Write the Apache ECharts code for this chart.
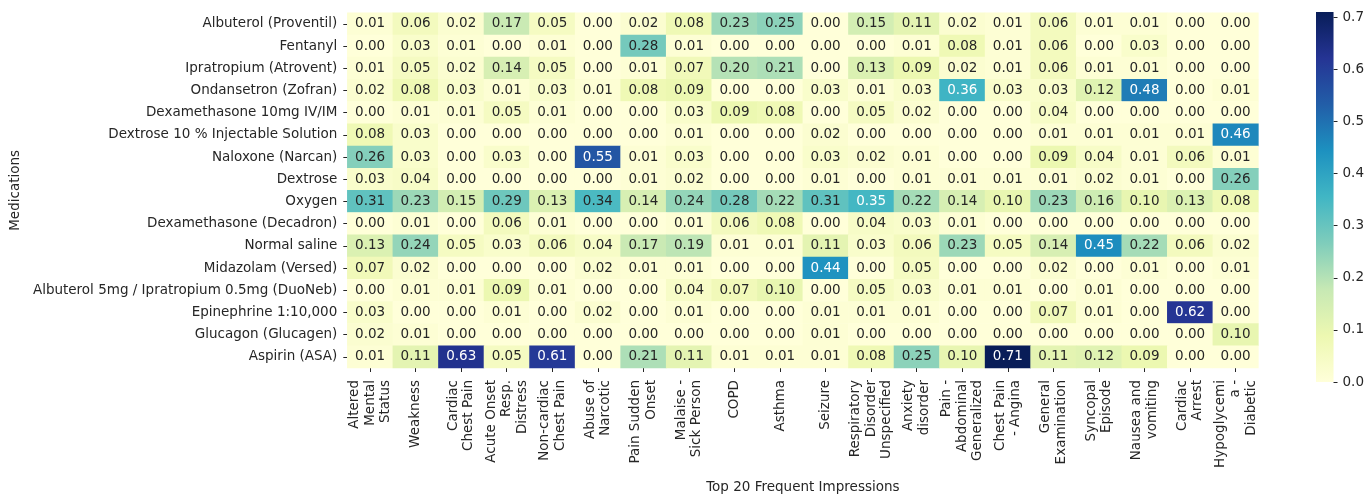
<!DOCTYPE html>
<html>
<head>
<meta charset="utf-8">
<script src="https://cdn.jsdelivr.net/npm/echarts@6/dist/echarts.min.js"></script>
<style>html,body{margin:0;padding:0;background:#fff;}#c{width:1367px;height:499px;}</style>
</head>
<body>
<div id="c"></div>
<script>
const medications = [
  "Albuterol (Proventil)", "Fentanyl", "Ipratropium (Atrovent)", "Ondansetron (Zofran)",
  "Dexamethasone 10mg IV/IM", "Dextrose 10 % Injectable Solution", "Naloxone (Narcan)", "Dextrose",
  "Oxygen", "Dexamethasone (Decadron)", "Normal saline", "Midazolam (Versed)",
  "Albuterol 5mg / Ipratropium 0.5mg (DuoNeb)", "Epinephrine 1:10,000", "Glucagon (Glucagen)", "Aspirin (ASA)"
];
const impressions = [
  "Altered Mental Status", "Weakness", "Cardiac Chest Pain", "Acute Onset Resp. Distress",
  "Non-cardiac Chest Pain", "Abuse of Narcotic", "Pain Sudden Onset", "Malaise - Sick Person",
  "COPD", "Asthma", "Seizure", "Respiratory Disorder Unspecified", "Anxiety disorder",
  "Pain - Abdominal Generalized", "Chest Pain - Angina", "General Examination", "Syncopal Episode",
  "Nausea and vomiting", "Cardiac Arrest", "Hypoglycemia - Diabetic"
];
const impressionTickLabels = [
  "Altered\nMental\nStatus", "Weakness", "Cardiac\nChest Pain", "Acute Onset\nResp.\nDistress",
  "Non-cardiac\nChest Pain", "Abuse of\nNarcotic", "Pain Sudden\nOnset", "Malaise -\nSick Person",
  "COPD", "Asthma", "Seizure", "Respiratory\nDisorder\nUnspecified", "Anxiety\ndisorder",
  "Pain -\nAbdominal\nGeneralized", "Chest Pain\n- Angina", "General\nExamination", "Syncopal\nEpisode",
  "Nausea and\nvomiting", "Cardiac\nArrest", "Hypoglycemi\na -\nDiabetic"
];
// rows = medications, columns = impressions
const values = [
  [0.01,0.06,0.02,0.17,0.05,0.00,0.02,0.08,0.23,0.25,0.00,0.15,0.11,0.02,0.01,0.06,0.01,0.01,0.00,0.00],
  [0.00,0.03,0.01,0.00,0.01,0.00,0.28,0.01,0.00,0.00,0.00,0.00,0.01,0.08,0.01,0.06,0.00,0.03,0.00,0.00],
  [0.01,0.05,0.02,0.14,0.05,0.00,0.01,0.07,0.20,0.21,0.00,0.13,0.09,0.02,0.01,0.06,0.01,0.01,0.00,0.00],
  [0.02,0.08,0.03,0.01,0.03,0.01,0.08,0.09,0.00,0.00,0.03,0.01,0.03,0.36,0.03,0.03,0.12,0.48,0.00,0.01],
  [0.00,0.01,0.01,0.05,0.01,0.00,0.00,0.03,0.09,0.08,0.00,0.05,0.02,0.00,0.00,0.04,0.00,0.00,0.00,0.00],
  [0.08,0.03,0.00,0.00,0.00,0.00,0.00,0.01,0.00,0.00,0.02,0.00,0.00,0.00,0.00,0.01,0.01,0.01,0.01,0.46],
  [0.26,0.03,0.00,0.03,0.00,0.55,0.01,0.03,0.00,0.00,0.03,0.02,0.01,0.00,0.00,0.09,0.04,0.01,0.06,0.01],
  [0.03,0.04,0.00,0.00,0.00,0.00,0.01,0.02,0.00,0.00,0.01,0.00,0.01,0.01,0.01,0.01,0.02,0.01,0.00,0.26],
  [0.31,0.23,0.15,0.29,0.13,0.34,0.14,0.24,0.28,0.22,0.31,0.35,0.22,0.14,0.10,0.23,0.16,0.10,0.13,0.08],
  [0.00,0.01,0.00,0.06,0.01,0.00,0.00,0.01,0.06,0.08,0.00,0.04,0.03,0.01,0.00,0.00,0.00,0.00,0.00,0.00],
  [0.13,0.24,0.05,0.03,0.06,0.04,0.17,0.19,0.01,0.01,0.11,0.03,0.06,0.23,0.05,0.14,0.45,0.22,0.06,0.02],
  [0.07,0.02,0.00,0.00,0.00,0.02,0.01,0.01,0.00,0.00,0.44,0.00,0.05,0.00,0.00,0.02,0.00,0.01,0.00,0.01],
  [0.00,0.01,0.01,0.09,0.01,0.00,0.00,0.04,0.07,0.10,0.00,0.05,0.03,0.01,0.01,0.00,0.01,0.00,0.00,0.00],
  [0.03,0.00,0.00,0.01,0.00,0.02,0.00,0.01,0.00,0.00,0.01,0.01,0.01,0.00,0.00,0.07,0.01,0.00,0.62,0.00],
  [0.02,0.01,0.00,0.00,0.00,0.00,0.00,0.00,0.00,0.00,0.01,0.00,0.00,0.00,0.00,0.00,0.00,0.00,0.00,0.10],
  [0.01,0.11,0.63,0.05,0.61,0.00,0.21,0.11,0.01,0.01,0.01,0.08,0.25,0.10,0.71,0.11,0.12,0.09,0.00,0.00]
];
const colorbarMin = 0;
const colorbarMax = 0.71;
const colorbarTicks = [0.0, 0.1, 0.2, 0.3, 0.4, 0.5, 0.6, 0.7];
const ylgnbu = ['#ffffd9','#edf8b1','#c7e9b4','#7fcdbb','#41b6c4','#1d91c0','#225ea8','#253494','#081d58'];

const cells = [];
values.forEach((row, r) => row.forEach((v, c) => cells.push([c, r, v])));

const FONT = 'DejaVu Sans';
const FS = 13.5;
const TXT = '#262626';
const gradient = new echarts.graphic.LinearGradient(0, 1, 0, 0,
  ylgnbu.map((c, i) => ({offset: i / (ylgnbu.length - 1), color: c})));

const chart = echarts.init(document.getElementById('c'), null, {renderer: 'canvas'});
chart.setOption({
  animation: false,
  backgroundColor: '#ffffff',
  textStyle: {fontFamily: FONT, color: TXT},
  grid: [
    {left: 347, top: 12.7, width: 911.4, height: 370.6},
    {left: 1316, top: 12, width: 18, height: 370}
  ],
  xAxis: [
    {
      type: 'category', data: impressions, gridIndex: 0, position: 'bottom',
      name: 'Top 20 Frequent Impressions', nameLocation: 'middle', nameGap: 112,
      nameTextStyle: {fontFamily: FONT, fontSize: FS, color: TXT},
      axisLine: {show: false},
      axisTick: {show: true, alignWithLabel: true, length: 4, lineStyle: {color: TXT, width: 1}},
      axisLabel: {
        interval: 0, rotate: 90, margin: 12, fontFamily: FONT, fontSize: FS, color: TXT, lineHeight: 15.5,
        formatter: (val, idx) => impressionTickLabels[idx]
      },
      splitLine: {show: false}
    },
    {type: 'category', data: [''], gridIndex: 1, show: false}
  ],
  yAxis: [
    {
      type: 'category', data: medications, gridIndex: 0, inverse: true,
      name: 'Medications', nameLocation: 'middle', nameGap: 318, nameRotate: 90,
      nameTextStyle: {fontFamily: FONT, fontSize: FS, color: TXT},
      axisLine: {show: false},
      axisTick: {show: true, alignWithLabel: true, length: 4, lineStyle: {color: TXT, width: 1}},
      axisLabel: {interval: 0, margin: 10, fontFamily: FONT, fontSize: FS, color: TXT},
      splitLine: {show: false}
    },
    {
      type: 'value', gridIndex: 1, position: 'right', min: colorbarMin, max: colorbarMax, interval: 0.1,
      axisLine: {show: false},
      axisTick: {show: true, length: 4, lineStyle: {color: TXT, width: 1}},
      axisLabel: {margin: 9, fontFamily: FONT, fontSize: FS, color: TXT, showMaxLabel: false,
        formatter: v => colorbarTicks.includes(Math.round(v * 10) / 10) ? v.toFixed(1) : ''},
      splitLine: {show: false}
    }
  ],
  visualMap: {
    type: 'continuous', min: colorbarMin, max: colorbarMax, seriesIndex: 0, show: false,
    inRange: {color: ylgnbu}
  },
  series: [{
    type: 'heatmap', xAxisIndex: 0, yAxisIndex: 0, data: cells,
    itemStyle: {borderWidth: 0},
    emphasis: {disabled: true},
    label: {
      show: true, fontFamily: FONT, fontSize: FS,
      formatter: p => (p.value[2] >= 0.345 ? '{w|' : '{d|') + p.value[2].toFixed(2) + '}',
      rich: {
        d: {color: TXT, fontFamily: FONT, fontSize: FS},
        w: {color: '#ffffff', fontFamily: FONT, fontSize: FS}
      }
    }
  }, {
    type: 'bar', xAxisIndex: 1, yAxisIndex: 1, data: [colorbarMax],
    barWidth: '100%', silent: true,
    itemStyle: {color: gradient, borderWidth: 0}
  }]
});
</script>
</body>
</html>
